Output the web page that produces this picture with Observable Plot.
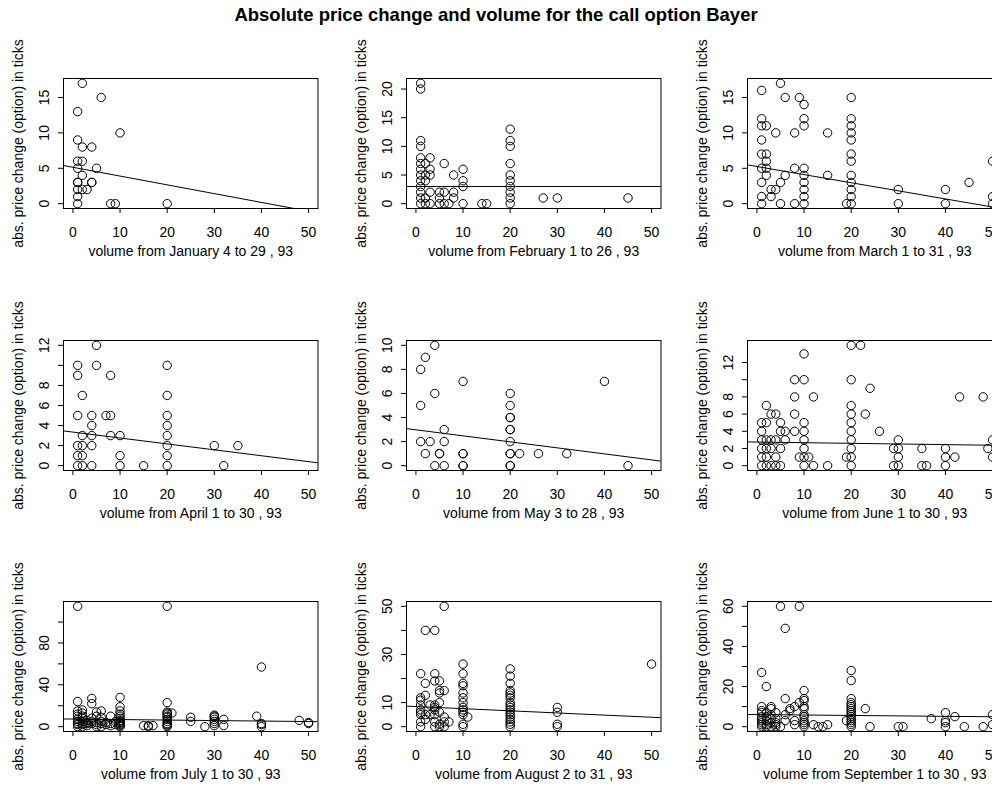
<!DOCTYPE html>
<html><head><meta charset="utf-8">
<script src="https://cdn.jsdelivr.net/npm/d3@7"></script>
<script src="https://cdn.jsdelivr.net/npm/@observablehq/plot@0.6"></script>
<style>
body{margin:0;background:#fff;}
#wrap{position:relative;width:992px;height:790px;overflow:hidden;background:#fff;font-family:"Liberation Sans",Arial,sans-serif;color:#000;}
#title{position:absolute;left:0;top:5px;width:992px;text-align:center;font-weight:bold;font-size:18.5px;line-height:20px;}
.panel{position:absolute;width:342px;height:262px;}
.panel svg{max-width:none !important;}
</style></head><body>
<div id="wrap"><div id="title">Absolute price change and volume for the call option Bayer</div></div>
<script>
// ---- data (volume, abs. price change in ticks) ----
const janVol = [2,1,6,10,1,2,4,1,2,5,1,2,4,4,1,1,1,2,3,1,1,8,9,20];
const janChg = [17,13,15,10,9,8,8,6,6,5,5,4,3,3,3,3,2,2,2,1,0,0,0,0];

const febVol = [1,1,1,1,1,1,1,1,1,1,1,1,1, 2,2,2,2,2, 3,3,3,3,3, 5,5,5, 6,6,6, 7, 8,8,8, 10,10,10,10, 14, 15, 20,20,20,20,20,20,20,20,20,20, 27, 30, 45];
const febChg = [21,20,11,10,8,7,6,5,4,3,2,1,0, 7,5,4,1,0, 8,6,5,2,0, 2,1,0, 7,2,0, 0, 5,2,1, 6,4,3,0, 0, 0, 13,11,10,7,5,4,3,2,1,0, 1, 1, 1];

const marVol = [1,1,1,1,1,1,1,1,1, 2,2,2,2,2, 3,3, 4,4, 5,5,5, 6,6, 8,8,8, 9, 10,10,10,10,10,10,10,10,10, 15,15, 19, 20,20,20,20,20,20,20,20,20,20,20,20, 30,30, 40,40, 45, 50,50,50];
const marChg = [16,12,11,9,7,5,3,1,0, 11,7,6,5,4, 2,1, 10,2, 17,3,0, 15,4, 10,5,0, 15, 14,12,11,5,4,3,2,1,0, 10,4, 0, 15,12,11,10,9,7,6,4,3,2,1,0, 2,0, 2,0, 3, 6,1,0];

const aprVol = [1,1,1,1,1,1, 2,2,2,2,2, 4,4,4,4,4, 5,5, 7, 8,8,8, 10,10,10, 15, 20,20,20,20,20,20,20,20, 30, 32, 35];
const aprChg = [10,9,5,2,1,0, 7,3,2,1,0, 5,4,3,2,0, 12,10, 5, 9,5,3, 3,1,0, 0, 10,7,5,4,3,2,1,0, 2, 0, 2];

const mayVol = [1,1,1, 2,2, 3, 4,4,4, 5,5, 6,6,6, 10,10,10,10,10, 20,20,20,20,20,20,20,20,20,20,20, 22, 26, 32, 40, 45];
const mayChg = [8,5,2, 9,1, 2, 10,6,0, 1,1, 3,2,0, 7,1,1,0,0, 6,5,4,4,3,3,2,1,1,0,0, 1, 1, 1, 7, 0];

const junVol = [1,1,1,1,1,1, 2,2,2,2,2,2, 3,3,3,3, 4,4,4,4, 5,5,5,5, 6,6, 8,8,8,8, 9, 10,10,10,10,10,10,10,10, 11, 12,12, 15, 19, 20,20,20,20,20,20,20,20,20,20, 22, 23, 24, 26, 29,29, 30,30,30,30, 35,35, 36, 40,40,40, 42, 43, 48, 49, 50,50];
const junChg = [5,4,3,2,1,0, 7,5,3,2,1,0, 6,3,2,0, 6,3,1,0, 5,4,2,0, 4,3, 10,8,6,4, 1, 13,10,5,4,3,2,1,0, 1, 8,0, 0, 1, 14,10,7,6,5,4,3,2,1,0, 14, 6, 9, 4, 2,0, 3,2,1,0, 2,0, 0, 2,1,0, 1, 8, 8, 2, 3,1];

const julVol = [1,1,1,1,1,1,1,1,1,1, 2,2,2,2,2,2,2,2, 3,3,3,3, 4,4,4,4,4, 5,5,5,5,5, 6,6,6,6,6, 7,7, 8,8,8, 9,9, 10,10,10,10,10,10,10,10,10,10,10,10,10, 15, 16,16, 17, 20,20,20,20,20,20,20,20,20,20,20,20,20, 21, 25,25, 28, 30,30,30,30,30,30,30, 32,32, 39, 40,40,40,40, 48, 50,50];
const julChg = [115,24,15,12,10,7,5,3,2,0, 16,13,10,8,5,3,2,0, 6,4,3,1, 27,22,8,5,3, 14,10,4,2,0, 15,9,5,3,0, 4,2, 10,3,1, 5,2, 28,19,15,12,10,8,6,5,4,3,2,1,0, 1, 1,0, 1, 115,23,14,13,12,10,9,7,5,3,2,1,0, 13, 9,5, 0, 11,10,9,7,5,3,1, 7,1, 10, 57,3,2,0, 6, 4,3];

const augVol = [1,1,1,1,1,1,1,1,1, 2,2,2,2,2, 3,3, 4,4,4,4,4,4,4,4,4, 5,5,5,5,5,5,5, 6,6,6,6,6, 7, 10,10,10,10,10,10,10,10,10,10,10,10,10, 11, 20,20,20,20,20,20,20,20,20,20,20,20,20,20,20,20,20,20, 30,30,30,30, 50];
const augChg = [22,12,11,9,7,6,5,2,0, 40,18,13,5,3, 9,5, 40,22,19,9,8,7,5,2,0, 19,15,14,10,6,1,0, 50,15,4,2,0, 2, 26,22,18,17,14,12,10,8,7,6,5,1,0, 4, 24,21,18,15,14,13,12,10,9,8,7,6,5,4,3,2,1,0, 8,6,1,0, 26];

const sepVol = [1,1,1,1,1,1,1,1,1,1, 2,2,2,2,2,2, 3,3,3,3,3,3, 4,4,4,4,4, 5,5, 6,6,6,6, 7,7, 8,8,8, 9,9, 10,10,10,10,10,10,10,10,10,10,10, 12, 13, 14, 15, 19, 20,20,20,20,20,20,20,20,20,20,20,20,20,20,20,20, 23, 24, 30, 31, 37, 40,40,40,40, 42, 44, 48, 50,50];
const sepChg = [27,10,8,7,5,4,3,2,1,0, 20,7,5,3,1,0, 10,9,6,4,2,0, 7,4,2,1,0, 60,0, 49,14,6,3, 9,8, 10,3,1, 60,12, 18,14,13,10,9,6,5,3,2,1,0, 1, 0, 0, 1, 3, 28,23,14,12,11,10,9,8,7,6,5,4,3,2,1,0, 9, 0, 0, 0, 4, 7,3,2,0, 5, 0, 0, 6,1];

// fitted straight lines (intercept, slope)
const fitIntercept = [5.14, 3.0, 5.25, 3.35, 2.98, 2.75, 7.3, 8.37, 6.04];
const fitSlope = [-0.124, 0, -0.1145, -0.059, -0.05, -0.0075, -0.048, -0.089, -0.022];

const xLabels = [
  "volume from January 4 to 29 , 93", "volume from February 1 to 26 , 93", "volume from March 1 to 31 , 93",
  "volume from April 1 to 30 , 93", "volume from May 3 to 28 , 93", "volume from June 1 to 30 , 93",
  "volume from July 1 to 30 , 93", "volume from August 2 to 31 , 93", "volume from September 1 to 30 , 93"
];
const yLabel = "abs. price change (option) in ticks";
const xTicks = [0, 10, 20, 30, 40, 50];
const xLimits = [0, 50];
const yTicks = [
  [0,5,10,15], [0,5,10,15,20], [0,5,10,15],
  [0,2,4,6,8,10,12], [0,2,4,6,8,10], [0,2,4,6,8,10,12],
  [0,20,40,60,80,100], [0,10,20,30,40,50], [0,10,20,30,40,50,60]
];
const yTickLabels = [
  [0,5,10,15], [0,5,10,15,20], [0,5,10,15],
  [0,2,4,6,8,12], [0,2,4,6,8,10], [0,2,4,6,8,12],
  [0,40,80], [0,10,30,50], [0,20,40,60]
];

const volumes = [janVol, febVol, marVol, aprVol, mayVol, junVol, julVol, augVol, sepVol];
const changes = [janChg, febChg, marChg, aprChg, mayChg, junChg, julChg, augChg, sepChg];

// ---- layout ----
const colLeft = [0, 342.5, 684];
const rowTop = [30.3, 291.6, 552.9];
const W = 342, H = 262;
const mL = 63, mR = 24.5, mT = 48, mB = 84;
const font = "'Liberation Sans', Arial, Helvetica, sans-serif";

const pad = (lo, hi) => { const d = (hi - lo) * 0.04; return [lo - d, hi + d]; };
const wrap = document.getElementById("wrap");

volumes.forEach((vol, i) => {
  const chg = changes[i];
  const pts = vol.map((v, k) => ({v, c: chg[k]}));
  const xDom = pad(xLimits[0], xLimits[1]);
  const yDom = pad(d3.min(chg), d3.max(chg));
  const fit = xDom.map(x => ({x, y: fitIntercept[i] + fitSlope[i] * x}));
  const chart = Plot.plot({
    width: W, height: H,
    marginLeft: mL, marginRight: mR, marginTop: mT, marginBottom: mB,
    style: {fontFamily: font, fontSize: "14px", color: "#000", background: "transparent", overflow: "visible", maxWidth: "none"},
    x: {domain: xDom},
    y: {domain: yDom},
    marks: [
      Plot.axisX({ticks: xTicks, tickSize: 5, tickFormat: () => "", label: null, stroke: "#000"}),
      Plot.axisY({ticks: yTicks[i], tickSize: 5, tickFormat: () => "", label: null, stroke: "#000"}),
      Plot.text(xTicks, {x: d => d, frameAnchor: "bottom", dy: 24, lineAnchor: "middle", fontSize: 14, fill: "#000"}),
      Plot.text(yTickLabels[i], {y: d => d, frameAnchor: "left", dx: -19, rotate: -90, textAnchor: "middle", lineAnchor: "middle", fontSize: 14, fill: "#000"}),
      Plot.text([xLabels[i]], {frameAnchor: "bottom", dy: 43, lineAnchor: "middle", fontSize: 14, fill: "#000"}),
      Plot.text([yLabel], {frameAnchor: "left", dx: -45, rotate: -90, lineAnchor: "middle", textAnchor: "middle", fontSize: 14, fill: "#000"}),
      Plot.line(fit, {x: "x", y: "y", stroke: "#000", strokeWidth: 1, clip: true}),
      Plot.dot(pts, {x: "v", y: "c", r: 4.2, stroke: "#000", fill: "none", strokeWidth: 1}),
      Plot.frame({stroke: "#000", strokeWidth: 1})
    ]
  });
  const div = document.createElement("div");
  div.className = "panel";
  div.style.left = colLeft[i % 3] + "px";
  div.style.top = rowTop[Math.floor(i / 3)] + "px";
  div.appendChild(chart);
  wrap.appendChild(div);
});
</script>
</body></html>
